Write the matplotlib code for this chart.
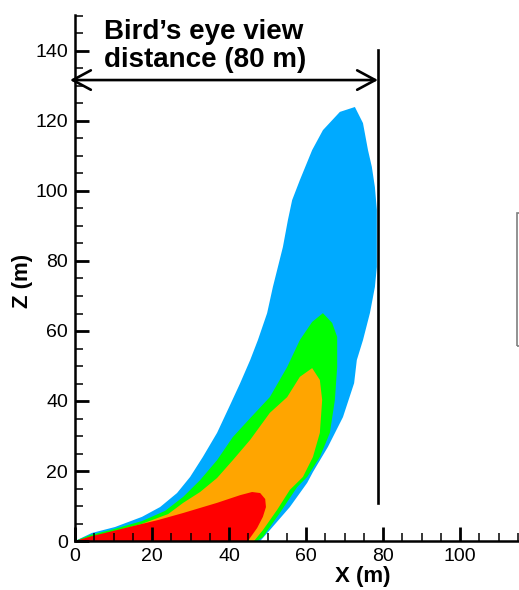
import matplotlib
matplotlib.use("Agg")
import matplotlib.pyplot as plt
from matplotlib.patches import Rectangle, ArrowStyle
from matplotlib.ticker import MultipleLocator

plt.rcParams['font.family'] = ['Liberation Sans', 'DejaVu Sans']

# Contour levels (outer to inner), boundaries (X, Z in m)
blue_x = [0, 4.4, 10.4, 17.4, 22.1, 26.5, 29.9, 33.2, 36.9, 40.3, 42.9, 45.5, 47.5, 49.9, 51.4,
          52.7, 54.0, 55.3, 56.4, 58.4, 61.6, 64.4, 68.8, 72.7,
          74.8, 76.1, 77.1, 77.9, 78.4, 78.4, 77.9, 76.6, 74.8, 73.2, 72.5,
          69.6, 65.7, 61.8, 60.3, 55.8, 50.6, 48.1]
blue_z = [0, 2.3, 4.0, 6.9, 9.7, 13.7, 18.3, 24.0, 30.9, 38.9, 45.1, 51.7, 57.4, 65.1, 72.6,
          78.3, 84.0, 91.7, 97.4, 103.1, 111.7, 117.4, 122.6, 124.0,
          119.4, 111.7, 106.9, 101.1, 94.6, 78.3, 72.6, 65.1, 57.4, 51.7, 45.1,
          35.4, 26.9, 19.7, 16.6, 9.7, 3.1, 0]

green_x = [0, 3.9, 9.1, 17.4, 23.4, 28.1, 32.5, 36.9, 41.0, 45.5, 50.6, 55.1, 58.4, 61.6, 64.4,
           66.8, 68.1, 68.1, 67.5, 66.2, 63.6, 60.3, 57.7, 53.2, 48.8, 47.3]
green_z = [0, 1.7, 3.1, 5.7, 8.6, 12.6, 17.4, 23.1, 29.7, 35.1, 41.1, 49.7, 57.4, 62.6, 65.1,
           62.3, 58.3, 49.7, 40.3, 30.9, 24.0, 18.3, 15.4, 8.0, 1.1, 0]

orange_x = [0, 8.6, 17.4, 24.2, 28.1, 32.5, 36.9, 41.0, 45.5, 50.6, 55.1, 58.4, 61.6, 63.6, 64.2,
            63.6, 61.8, 59.2, 55.8, 52.5, 48.8, 46.5]
orange_z = [0, 2.3, 4.9, 7.7, 10.9, 14.0, 18.0, 23.1, 28.9, 36.6, 41.1, 46.9, 49.4, 46.0, 40.3,
            30.9, 24.0, 18.3, 14.6, 8.9, 3.1, 0]

red_x = [0, 4.4, 13.0, 21.6, 28.1, 36.9, 42.9, 46.0, 48.1, 49.4, 49.6, 48.8, 47.3, 44.9]
red_z = [0, 1.4, 3.7, 6.0, 8.0, 10.9, 13.1, 14.0, 13.7, 12.0, 9.7, 6.9, 3.7, 0]

level_colors = ['#00AAFF', '#00FF00', '#FFA500', '#FF0000']

x_ticks = [0, 20, 40, 60, 80, 100]
z_ticks = [0, 20, 40, 60, 80, 100, 120, 140]

view_distance = 78.7   # X of the vertical marker line
arrow_z = 131.7
line_z = [10.9, 140.3]

fig = plt.figure(figsize=(5.19, 5.90), dpi=100)
ax = fig.add_axes([75/519, 1 - 541/590, 444/519, 526/590])

for xs, zs, c in zip([blue_x, green_x, orange_x, red_x],
                     [blue_z, green_z, orange_z, red_z], level_colors):
    ax.fill(xs, zs, color=c, lw=0, zorder=1)

ax.set_xlim(0, 444/3.85)
ax.set_ylim(0, 526/3.5)

for s in ['top', 'right']:
    ax.spines[s].set_visible(False)
for s in ['left', 'bottom']:
    ax.spines[s].set_linewidth(1.8)
    ax.spines[s].set_zorder(5)

ax.set_xticks(x_ticks)
ax.set_yticks(z_ticks)
ax.xaxis.set_minor_locator(MultipleLocator(5))
ax.yaxis.set_minor_locator(MultipleLocator(5))
ax.tick_params(which='major', direction='in', length=10, width=2, labelsize=14)
ax.tick_params(which='minor', direction='in', length=5.5, width=1.1)
ax.tick_params(axis='x', which='major', pad=5)
ax.tick_params(axis='y', which='major', pad=5)

ax.set_xlabel('X (m)', fontsize=16, fontweight='bold')
ax.set_ylabel('Z (m)', fontsize=16, fontweight='bold')
ax.xaxis.set_label_coords(288/444, -25/526)
ax.yaxis.set_label_coords(-42/444, 260/526)

# vertical marker line
ax.plot([view_distance, view_distance], line_z, color='black', lw=1.9, zorder=4, clip_on=False)

# double arrow
ax.annotate('', xy=(-1.3, arrow_z), xytext=(view_distance, arrow_z),
            arrowprops=dict(arrowstyle=ArrowStyle('<->', head_length=1.3, head_width=0.7),
                            mutation_scale=10, lw=1.9, color='black',
                            shrinkA=0, shrinkB=0),
            annotation_clip=False, zorder=6)

fig.text(104/519, 1 - 67/590, 'Bird\u2019s eye view\ndistance (80 m)', fontsize=20,
         fontweight='bold', ha='left', va='baseline', linespacing=1.12)

# partial box at the right edge
fig.patches.append(Rectangle((517/519, 1 - 346/590), 0.05, 133/590, transform=fig.transFigure,
                             fill=False, edgecolor='#7f7f7f', lw=1.2))

fig.savefig('out.png', dpi=100)
